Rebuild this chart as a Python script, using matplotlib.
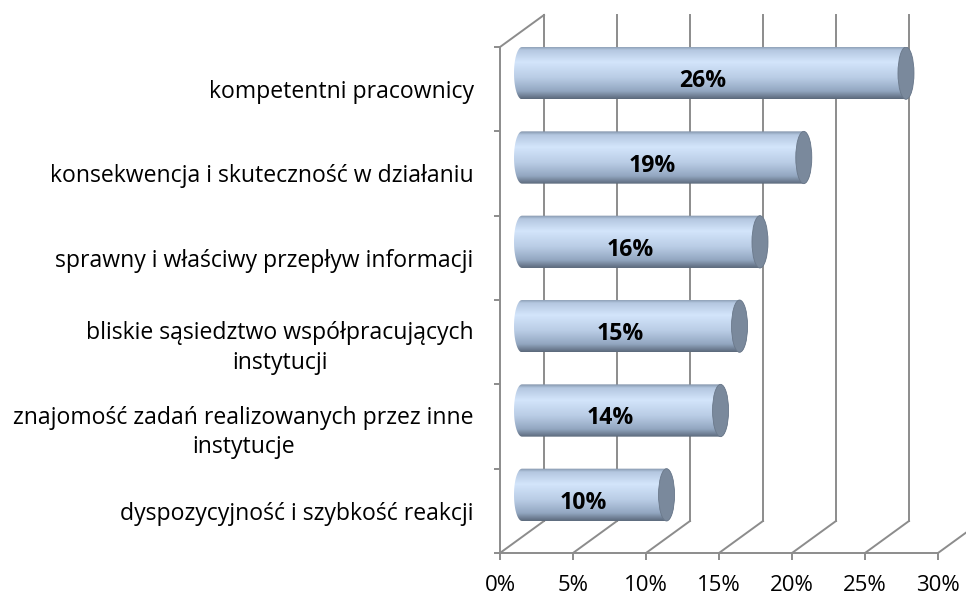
import matplotlib.pyplot as plt
import numpy as np
from matplotlib.path import Path
from matplotlib.patches import PathPatch, Ellipse
from matplotlib.colors import LinearSegmentedColormap
from matplotlib.transforms import ScaledTranslation

categories = ['kompetentni pracownicy',
              'konsekwencja i skuteczność w działaniu',
              'sprawny i właściwy przepływ informacji',
              'bliskie sąsiedztwo współpracujących\ninstytucji',
              'znajomość zadań realizowanych przez inne\ninstytucje',
              'dyspozycyjność i szybkość reakcji']
values = [26.3, 19.3, 16.3, 14.9, 13.6, 9.9]
xticks = [0, 5, 10, 15, 20, 25, 30]
xticklabels = ['0%', '5%', '10%', '15%', '20%', '25%', '30%']

plt.rcParams['font.family'] = ['Open Sans', 'DejaVu Sans']
fs = 16.6

W, H = 966, 599
fig = plt.figure(figsize=(W / 100, H / 100), dpi=100)
# front plane of the 3d box, in pixels
left, right, top, bottom = 500, 938, 47, 553
ax = fig.add_axes([left / W, (H - bottom) / H, (right - left) / W, (bottom - top) / H])
ax.set_xlim(0, 30)
ax.set_ylim(6, 0)

# depth of the box (pixels) as data units
dx = 44 * 30 / (right - left)
dy = 32 * 6 / (bottom - top)
grid = '#8c8c8c'
lw = 1.4

for s in ['top', 'right']:
    ax.spines[s].set_visible(False)
for s in ['left', 'bottom']:
    ax.spines[s].set_color(grid)
    ax.spines[s].set_linewidth(lw)

# back wall verticals and floor diagonals
for xt in xticks:
    ax.plot([xt + dx, xt + dx], [0 - dy, 6 - dy], color=grid, lw=lw, clip_on=False, zorder=1)
    ax.plot([xt, xt + dx], [6, 6 - dy], color=grid, lw=lw, clip_on=False, zorder=1)
# top edge of left wall
ax.plot([0, dx], [0, -dy], color=grid, lw=lw, clip_on=False, zorder=1)

ax.set_xticks(xticks)
ax.set_xticklabels(xticklabels, fontsize=16)
ax.tick_params(axis='x', length=5, width=lw, color=grid, pad=10.5)

ax.set_yticks(np.arange(len(categories)) + 0.5)
ax.set_yticklabels(categories, fontsize=fs)
shift = ScaledTranslation(0, -0.04, fig.dpi_scale_trans)
for t in ax.get_yticklabels():
    t.set_multialignment('center')
    t.set_linespacing(1.32)
    t.set_transform(t.get_transform() + shift)
ax.set_yticks(np.arange(len(categories) + 1), minor=True)
ax.tick_params(axis='y', which='major', length=0, pad=19)
ax.tick_params(axis='y', which='minor', length=4.5, width=lw, color=grid)

# cylinder colours
body_cmap = LinearSegmentedColormap.from_list('cyl', [
    (0.0, '#8293aa'), (0.07, '#b4c7e0'), (0.3, '#d3e5fb'),
    (0.6, '#b9cce5'), (0.85, '#93a7c1'), (1.0, '#5b697b')])
grad = np.linspace(0, 1, 200)[:, None]

h = 0.31
a = 8 * 30 / (right - left)
t = np.linspace(np.pi / 2, 3 * np.pi / 2, 40)
for i, v in enumerate(values):
    c = i + 0.5 - dy / 2
    x0, x1 = dx / 2, v + dx / 2
    lx = x0 + a * np.cos(t)
    ly = c - h * np.sin(t)
    rx = x1 - a * np.cos(t)
    ry = c + h * np.sin(t)
    verts = np.vstack([np.column_stack([lx, ly]), np.column_stack([rx, ry]), [[lx[0], ly[0]]]])
    codes = [Path.MOVETO] + [Path.LINETO] * (len(verts) - 2) + [Path.CLOSEPOLY]
    body = PathPatch(Path(verts, codes), facecolor='none', edgecolor='none', zorder=3)
    ax.add_patch(body)
    im = ax.imshow(grad, cmap=body_cmap, aspect='auto', origin='upper',
                   extent=(x0 - a, x1 + a, c + h, c - h), zorder=3)
    im.set_clip_path(body)
    cap = Ellipse((x1, c), 2 * a, 2 * h, facecolor='#7a899c', edgecolor='#6a788a', lw=0.6, zorder=4)
    ax.add_patch(cap)
    ax.text(v / 2 + dx / 4, i + 0.5 - dy / 4, f'{v:.0f}%', ha='center', va='center',
            fontsize=fs, fontweight='bold', zorder=5)

ax.set_xlim(0, 30)
ax.set_ylim(6, 0)

plt.savefig('out.png', dpi=100)
